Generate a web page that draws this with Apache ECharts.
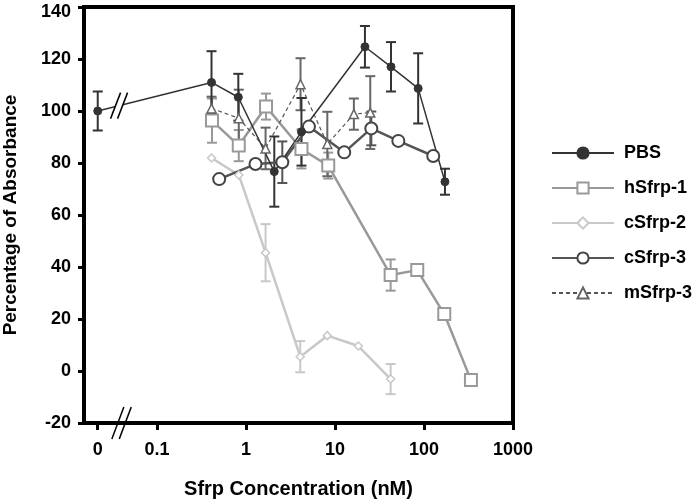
<!DOCTYPE html>
<html><head><meta charset="utf-8">
<script src="https://cdn.jsdelivr.net/npm/echarts@6/dist/echarts.min.js"></script>
<style>html,body{margin:0;padding:0;background:#fff}#c{width:700px;height:500px}</style>
</head><body><div id="c"></div>
<script>
// x tick positions (nM, log axis) and labels; "0" is a placeholder position left of the break
const xTickValues = [0.0216, 0.1, 1, 10, 100, 1000];
const xTickLabels = ['0', '0.1', '1', '10', '100', '1000'];

const pbsX = [0.0216, 0.41, 0.82, 2.08, 4.2, 21.7, 42.6, 86, 172];
const pbsY = [100, 111, 105.3, 76.7, 92, 124.7, 117, 108.7, 72.8];
const pbsErr = [7.5, 12, 9, 13.5, 13, 8, 9.5, 13.5, 5];

const h1X = [0.415, 0.83, 1.68, 4.2, 8.4, 42.2, 84, 169, 337];
const h1Y = [96.3, 86.7, 101.7, 85.4, 79, 36.9, 38.8, 21.9, -3.5];
const h1Err = [8.5, 6, 5, 7.5, 5, 6, 0, 0, 0];

const c2X = [0.41, 0.83, 1.66, 4.07, 8.2, 18.3, 42.2];
const c2Y = [81.9, 75.4, 45.5, 5.5, 13.6, 9.6, -3.1];
const c2Err = [0, 0, 11, 6, 0, 0, 5.8];

const c3X = [0.5, 1.28, 2.56, 5.1, 12.7, 25.6, 51.5, 127];
const c3Y = [73.8, 79.6, 80.3, 94, 84.1, 93.3, 88.5, 82.7];
const c3Err = [0, 0, 8, 0, 0, 6.5, 0, 0];

const m3X = [0.41, 0.83, 1.66, 4.1, 8.2, 16.3, 24.9];
const m3Y = [101, 97.2, 85.6, 110.3, 87.3, 98.8, 99.4];
const m3Err = [4.5, 11, 8, 10, 12.4, 6, 14];

const FONT = '"Liberation Sans", Arial, Helvetica, sans-serif';

function pts(xs, ys) { return xs.map((x, i) => [x, ys[i]]); }
function errs(xs, ys, es) {
  const out = [];
  xs.forEach((x, i) => { if (es[i] > 0) out.push([x, ys[i] - es[i], ys[i] + es[i]]); });
  return out;
}
function errSeries(name, xs, ys, es, color) {
  return {
    type: 'custom', name: name, silent: true,
    data: errs(xs, ys, es),
    encode: { x: 0, y: [1, 2] },
    renderItem: function (params, api) {
      const lo = api.coord([api.value(0), api.value(1)]);
      const hi = api.coord([api.value(0), api.value(2)]);
      const hw = 5;
      const st = { stroke: color, lineWidth: 2 };
      return { type: 'group', children: [
        { type: 'line', shape: { x1: lo[0], y1: lo[1], x2: hi[0], y2: hi[1] }, style: st },
        { type: 'line', shape: { x1: lo[0] - hw, y1: lo[1], x2: lo[0] + hw, y2: lo[1] }, style: st },
        { type: 'line', shape: { x1: hi[0] - hw, y1: hi[1], x2: hi[0] + hw, y2: hi[1] }, style: st }
      ]};
    }
  };
}

const chart = echarts.init(document.getElementById('c'), null, { renderer: 'canvas' });
const option = {
  animation: false,
  backgroundColor: '#fff',
  grid: { left: 84, right: 187, top: 7, bottom: 77, outerBoundsMode: 'none', containLabel: false,
    show: true, borderColor: '#000', borderWidth: 4, backgroundColor: 'transparent' },
  legend: {
    data: ['PBS', 'hSfrp-1', 'cSfrp-2', 'cSfrp-3', 'mSfrp-3'],
    orient: 'vertical', left: 546, top: 139,
    itemWidth: 62, itemHeight: 14, itemGap: 17,
    textStyle: { fontFamily: FONT, fontWeight: 'bold', fontSize: 18, color: '#000', padding: [0, 0, 0, 5] }
  },
  xAxis: {
    type: 'log', logBase: 10, min: 0.01514, max: 1000,
    name: 'Sfrp Concentration (nM)', nameLocation: 'middle', nameGap: 56,
    nameTextStyle: { fontFamily: FONT, fontWeight: 'bold', fontSize: 20, color: '#000' },
    axisLine: { onZero: false, lineStyle: { color: '#000', width: 4 } },
    axisTick: { show: true, length: 7, lineStyle: { color: '#000', width: 3 }, customValues: xTickValues },
    axisLabel: { margin: 18, fontFamily: FONT, fontWeight: 'bold', fontSize: 18, color: '#000',
      customValues: xTickValues,
      formatter: function (v) {
        let best = 0, bd = Infinity;
        xTickValues.forEach((t, i) => { const d = Math.abs(Math.log10(t) - Math.log10(v)); if (d < bd) { bd = d; best = i; } });
        return xTickLabels[best];
      } },
    splitLine: { show: false }, minorTick: { show: false }
  },
  yAxis: {
    type: 'value', min: -20, max: 140, interval: 20,
    name: 'Percentage of Absorbance', nameLocation: 'middle', nameGap: 64, nameRotate: 90,
    nameTextStyle: { fontFamily: FONT, fontWeight: 'bold', fontSize: 19, color: '#000' },
    axisLine: { show: true, onZero: false, lineStyle: { color: '#000', width: 4 } },
    axisTick: { show: true, length: 6, lineStyle: { color: '#000', width: 3 } },
    axisLabel: { margin: 13, fontFamily: FONT, fontWeight: 'bold', fontSize: 18, color: '#000',
      formatter: function (v) { return v === 140 ? '{top|' + v + '}' : String(v); },
      rich: { top: { fontFamily: FONT, fontWeight: 'bold', fontSize: 18, color: '#000', padding: [10, 0, 0, 0] } } },
    splitLine: { show: false }
  },
  series: [
    errSeries('cSfrp-2 err', c2X, c2Y, c2Err, '#c8c8c8'),
    { type: 'line', name: 'cSfrp-2', data: pts(c2X, c2Y), symbol: 'diamond', symbolSize: 8,
      color: '#c8c8c8', lineStyle: { color: '#c8c8c8', width: 2.5 },
      itemStyle: { color: '#fff', borderColor: '#c8c8c8', borderWidth: 1.5 } },
    errSeries('hSfrp-1 err', h1X, h1Y, h1Err, '#999'),
    { type: 'line', name: 'hSfrp-1', data: pts(h1X, h1Y), symbol: 'rect', symbolSize: 12,
      color: '#999', lineStyle: { color: '#999', width: 2.5 },
      itemStyle: { color: '#fff', borderColor: '#999', borderWidth: 2 } },
    errSeries('mSfrp-3 err', m3X, m3Y, m3Err, '#666'),
    { type: 'line', name: 'mSfrp-3', data: pts(m3X, m3Y), symbol: 'triangle', symbolSize: 9,
      color: '#555', lineStyle: { color: '#555', width: 1.2, type: [4, 3] },
      itemStyle: { color: '#fff', borderColor: '#666', borderWidth: 1.5 } },
    errSeries('cSfrp-3 err', c3X, c3Y, c3Err, '#555'),
    { type: 'line', name: 'cSfrp-3', data: pts(c3X, c3Y), symbol: 'circle', symbolSize: 12,
      color: '#555', lineStyle: { color: '#555', width: 2.5 },
      itemStyle: { color: '#fff', borderColor: '#444', borderWidth: 2 } },
    errSeries('PBS err', pbsX, pbsY, pbsErr, '#333'),
    { type: 'line', name: 'PBS', data: pts(pbsX, pbsY), symbol: 'circle', symbolSize: 8,
      color: '#333', lineStyle: { color: '#333', width: 1.5 },
      itemStyle: { color: '#333', borderColor: '#333', borderWidth: 1 } }
  ]
};
chart.setOption(option);

// break marks (decoration), positioned through the axes
const BREAK_X = 0.04;
const p0 = chart.convertToPixel({ gridIndex: 0 }, [pbsX[0], pbsY[0]]);
const p1 = chart.convertToPixel({ gridIndex: 0 }, [pbsX[1], pbsY[1]]);
const bc = chart.convertToPixel({ gridIndex: 0 }, [BREAK_X, -20]);
const lcx = chart.convertToPixel({ gridIndex: 0 }, [0.0375, 100])[0];
const lcy = p0[1] + (p1[1] - p0[1]) * (lcx - p0[0]) / (p1[0] - p0[0]);
const g = [];
// line break
g.push({ type: 'polygon', z: 100, shape: { points: [[lcx - 3.5 - 5, lcy + 13], [lcx - 3.5 + 5, lcy - 13], [lcx + 3.5 + 5, lcy - 13], [lcx + 3.5 - 5, lcy + 13]] }, style: { fill: '#fff' } });
[-3.5, 3.5].forEach(d => g.push({ type: 'line', z: 101, shape: { x1: lcx + d - 5, y1: lcy + 13, x2: lcx + d + 5, y2: lcy - 13 }, style: { stroke: '#000', lineWidth: 1.5 } }));
// axis break
[-3.7, 3.7].forEach(d => g.push({ type: 'line', z: 101, shape: { x1: bc[0] + d - 6, y1: bc[1] + 16, x2: bc[0] + d + 6, y2: bc[1] - 16 }, style: { stroke: '#000', lineWidth: 1.5 } }));
chart.setOption({ graphic: g });
</script>
</body></html>
